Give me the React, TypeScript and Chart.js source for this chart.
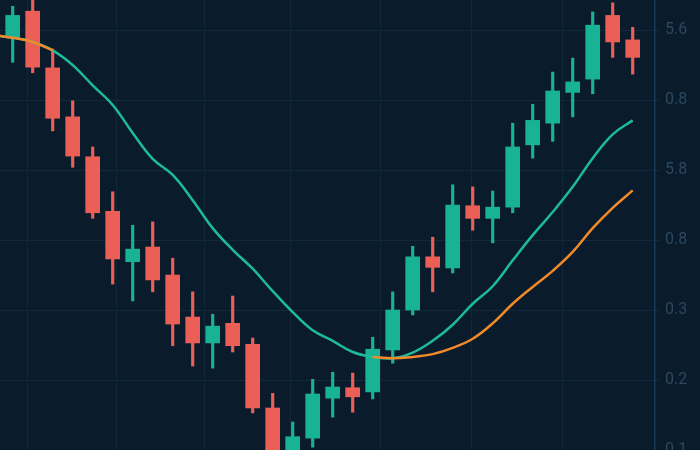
import React, { useEffect, useRef } from "react";
import { Chart, registerables } from "chart.js";

Chart.register(...registerables);

// OHLC candles (index 0..31)
const opens = [5.9, 6.27, 5.46, 4.76, 4.19, 3.41, 2.69, 2.9, 2.5, 1.9, 1.53, 1.81, 1.51, 0.6, -0.21, 0.17, 0.74, 0.89, 0.83, 1.43, 2.0, 2.76, 2.6, 3.49, 3.31, 3.47, 4.36, 4.67, 5.11, 5.3, 6.21, 5.86];
const highs = [6.34, 6.47, 5.73, 4.99, 4.33, 3.69, 3.21, 3.26, 2.74, 2.26, 1.94, 2.2, 1.6, 0.81, 0.4, 1.01, 1.11, 1.1, 1.61, 2.26, 2.91, 3.04, 3.79, 3.76, 3.7, 4.67, 4.94, 5.4, 5.6, 6.26, 6.39, 6.04];
const lows = [5.54, 5.39, 4.56, 4.04, 3.31, 2.37, 2.13, 2.26, 1.49, 1.2, 1.17, 1.4, 0.53, -0.21, -0.36, 0.04, 0.47, 0.54, 0.73, 1.24, 1.93, 2.26, 2.53, 3.14, 2.96, 3.39, 4.17, 4.41, 4.76, 5.09, 5.61, 5.37];
const closes = [6.21, 5.47, 4.74, 4.2, 3.39, 2.73, 2.87, 2.43, 1.8, 1.53, 1.77, 1.49, 0.6, -0.07, 0.19, 0.8, 0.9, 0.76, 1.44, 2.0, 2.76, 2.61, 3.5, 3.31, 3.47, 4.33, 4.71, 5.13, 5.26, 6.07, 5.83, 5.61];

// Moving averages (starting at index -1)
const maFast = [5.93, 5.89, 5.83, 5.71, 5.5, 5.21, 4.93, 4.53, 4.16, 3.93, 3.57, 3.17, 2.86, 2.59, 2.27, 1.97, 1.71, 1.56, 1.4, 1.33, 1.31, 1.39, 1.56, 1.79, 2.09, 2.34, 2.71, 3.07, 3.4, 3.76, 4.17, 4.51, 4.71];
const maSlow: (number | null)[] = [5.93, 5.89, 5.83, 5.71, null, null, null, null, null, null, null, null, null, null, null, null, null, null, null, 1.33, 1.31, 1.33, 1.37, 1.46, 1.59, 1.81, 2.09, 2.33, 2.56, 2.83, 3.17, 3.46, 3.71];

// Axis ticks
const yTickValues = [0, 1, 2, 3, 4, 5, 6];
const yTickLabels = ["0.1", "0.2", "0.3", "0.8", "5.8", "0.8", "5.6"];
const xGridValues = [0.72, 5.17, 9.57, 13.9, 18.4, 22.96, 27.5];

const GREEN = "#17b394";
const RED = "#ec5f56";
const BG = "#0a1b2b";

export default function App() {
  const ref = useRef<HTMLCanvasElement | null>(null);

  useEffect(() => {
    document.body.style.margin = "0";
    document.body.style.background = BG;
    const canvas = ref.current;
    if (!canvas) return;

    const idx = opens.map((_, i) => i);
    const colors = idx.map((i) => (closes[i] >= opens[i] ? GREEN : RED));

    const bgPlugin = {
      id: "bg",
      beforeDraw(chart: any) {
        const { ctx, width, height } = chart;
        ctx.save();
        ctx.fillStyle = BG;
        ctx.fillRect(0, 0, width, height);
        ctx.restore();
      },
    };

    const chart = new Chart(canvas, {
      type: "bar",
      data: {
        datasets: [
          {
            type: "line",
            data: maSlow.map((v, k) => ({ x: k - 1, y: v })),
            borderColor: "#f28a2a",
            borderWidth: 2.5,
            pointRadius: 0,
            tension: 0.4,
            spanGaps: false,
            order: 0,
          } as any,
          {
            type: "line",
            data: maFast.map((v, k) => ({ x: k - 1, y: v })),
            borderColor: "#1dbb9a",
            borderWidth: 2.5,
            pointRadius: 0,
            tension: 0.4,
            order: 1,
          } as any,
          {
            type: "bar",
            data: idx.map((i) => ({ x: i, y: [opens[i], closes[i]] })),
            backgroundColor: colors,
            borderColor: colors,
            borderWidth: 0,
            barThickness: 14,
            grouped: false,
            order: 2,
          } as any,
          {
            type: "bar",
            data: idx.map((i) => ({ x: i, y: [lows[i], highs[i]] })),
            backgroundColor: colors,
            borderWidth: 0,
            barThickness: 2.5,
            grouped: false,
            order: 3,
          } as any,
        ],
      },
      options: {
        responsive: false,
        animation: false,
        layout: { padding: 0 },
        plugins: { legend: { display: false }, tooltip: { enabled: false } },
        scales: {
          x: {
            type: "linear",
            min: -0.635,
            max: 32.115,
            offset: false,
            grid: { color: "#10263a", lineWidth: 1, drawTicks: false, offset: false },
            border: { display: false },
            ticks: { display: false },
            afterBuildTicks: (scale: any) => {
              scale.ticks = xGridValues.map((v) => ({ value: v }));
            },
            afterFit: (scale: any) => {
              scale.height = 0;
              scale.paddingLeft = 0;
              scale.paddingRight = 0;
            },
          },
          y: {
            type: "linear",
            position: "right",
            min: 0,
            max: 6.43,
            grid: { color: "#12293d", lineWidth: 1, tickLength: 5 },
            border: { display: true, color: "#1b3a56", width: 1.5 },
            ticks: {
              color: "#2b4862",
              padding: 5,
              font: { family: "Roboto", size: 16 },
              callback: (value: any) => {
                const k = yTickValues.indexOf(Number(value));
                return k >= 0 ? yTickLabels[k] : "";
              },
            },
            afterBuildTicks: (scale: any) => {
              scale.ticks = yTickValues.map((v) => ({ value: v }));
            },
            afterFit: (scale: any) => {
              scale.width = 45;
              scale.paddingTop = 0;
              scale.paddingBottom = 0;
            },
          },
        },
      } as any,
      plugins: [bgPlugin],
    });

    return () => chart.destroy();
  }, []);

  return (
    <canvas ref={ref} width={700} height={450} style={{ display: "block" }} />
  );
}
